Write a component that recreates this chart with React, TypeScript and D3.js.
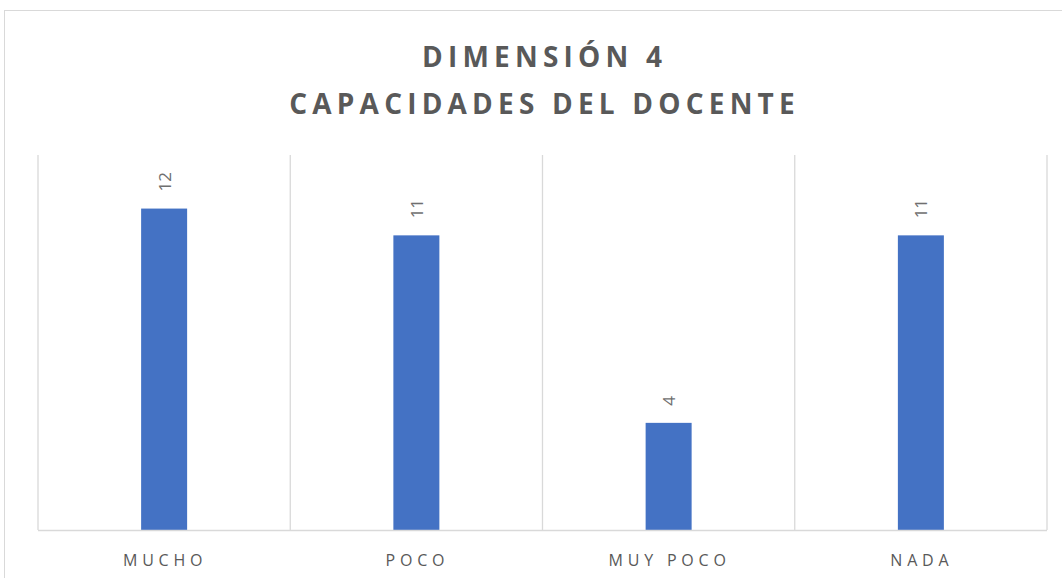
import React from "react";
import * as d3 from "d3";

const categories = ["MUCHO", "POCO", "MUY POCO", "NADA"];
const values = [12, 11, 4, 11];
const titleLines = ["DIMENSIÓN 4", "CAPACIDADES DEL DOCENTE"];

const W = 1062;
const H = 578;
const plot = { left: 38, right: 1047, top: 155, bottom: 530 };

export default function App() {
  const x = d3.scaleBand<string>().domain(categories).range([plot.left, plot.right]).padding(0);
  const y = d3.scaleLinear().domain([0, 14]).range([plot.bottom, plot.top]);
  const barW = 46;
  const gridXs = [...categories.map((c) => x(c) as number), plot.right];
  const font = "'Open Sans', sans-serif";
  const titleLS = 5.2;
  const catLS = 4.8;

  return (
    <svg width={W} height={H} style={{ position: "absolute", left: 0, top: 0, background: "#fff" }}>
      <rect x={4.5} y={10.5} width={W + 10} height={H + 10} fill="#fff" stroke="#d9d9d9" strokeWidth={1} />
      {titleLines.map((t, i) => (
        <text
          key={t}
          x={542 + titleLS / 2}
          y={67 + i * 47}
          textAnchor="middle"
          fontFamily={font}
          fontWeight={700}
          fontSize={28}
          letterSpacing={titleLS}
          fill="#595959"
        >
          {t}
        </text>
      ))}
      {gridXs.map((gx, i) => (
        <line key={i} x1={gx} x2={gx} y1={plot.top} y2={plot.bottom} stroke="#d9d9d9" strokeWidth={1.3} />
      ))}
      {categories.map((c, i) => {
        const cx = (x(c) as number) + x.bandwidth() / 2;
        const v = values[i];
        return (
          <g key={c}>
            <rect x={cx - barW / 2} y={y(v)} width={barW} height={y(0) - y(v)} fill="#4472C4" />
            <text
              transform={`translate(${cx + 6.5},${y(v) - 17}) rotate(-90)`}
              textAnchor="start"
              fontFamily={font}
              fontSize={17}
              fill="#6f6f6f"
            >
              {v}
            </text>
            <text
              x={cx + 1}
              y={566}
              textAnchor="middle"
              fontFamily={font}
              fontSize={16}
              letterSpacing={catLS}
              fill="#595959"
            >
              {c}
            </text>
          </g>
        );
      })}
      <line x1={plot.left} x2={plot.right} y1={plot.bottom + 0.5} y2={plot.bottom + 0.5} stroke="#d9d9d9" strokeWidth={1.5} />
    </svg>
  );
}
